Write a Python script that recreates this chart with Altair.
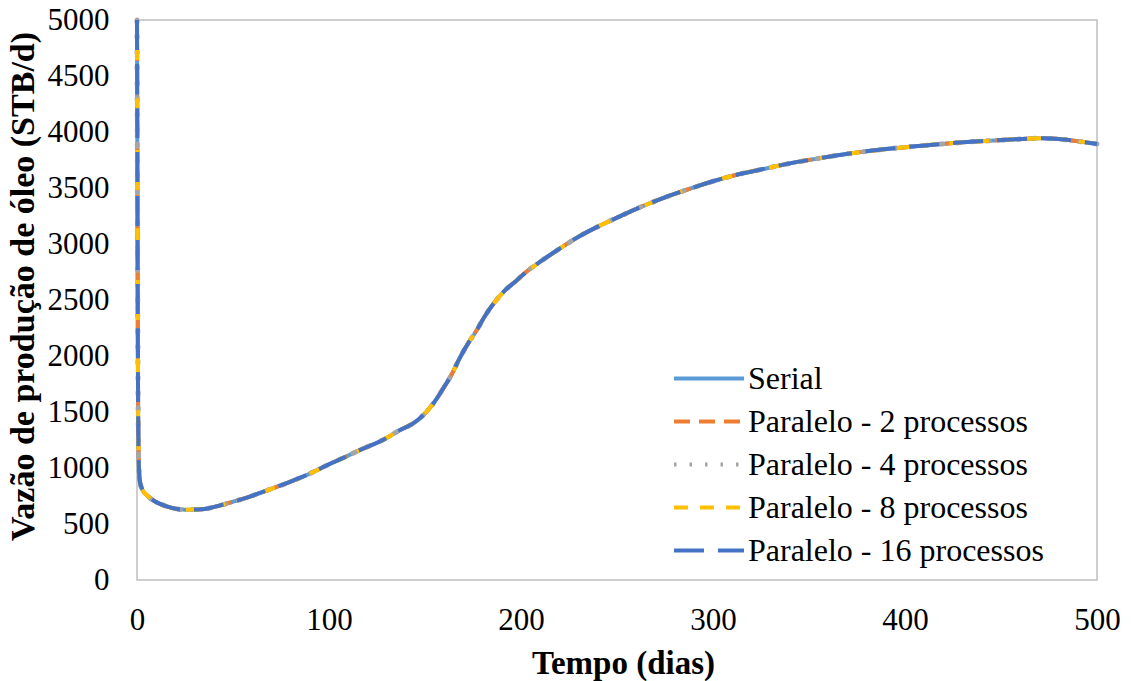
import altair as alt
import pandas as pd

# ---- data ----
time_days = [0, 0.3, 0.6, 1.0, 1.5, 3, 5, 9, 15, 25, 34, 42, 50, 58, 66, 78, 90, 99,
             108, 116, 128, 137, 144, 150, 155, 159.5, 164, 168, 173, 177, 181, 186.5,
             191, 198, 203, 210, 219, 230, 240, 250, 262, 274, 286, 300, 314, 328, 340,
             352, 366, 380, 394, 407, 419, 432, 445, 458, 470, 480, 488, 500]
oil_rate = [5000, 3000, 1500, 1000, 880, 800, 760, 705, 660, 628, 632, 660, 699, 740, 790,
            865, 950, 1025, 1095, 1160, 1250, 1339, 1400, 1488, 1592, 1711, 1839, 1979,
            2128, 2232, 2351, 2485, 2574, 2679, 2755, 2842, 2946, 3065, 3155, 3235, 3328,
            3410, 3482, 3560, 3625, 3676, 3720, 3756, 3795, 3828, 3854, 3875, 3893, 3910,
            3923, 3935, 3944, 3938, 3922, 3893]

series_names = ["Serial", "Paralelo - 2 processos", "Paralelo - 4 processos",
                "Paralelo - 8 processos", "Paralelo - 16 processos"]
series_colors = ["#5B9BD5", "#ED7D31", "#A5A5A5", "#FFC000", "#4472C4"]
series_dashes = [[1, 0], [16, 9], [2.5, 13], [14, 12], [30, 14]]
series_caps = ["butt", "butt", "round", "butt", "butt"]
series_widths = [4, 4, 5, 4, 4]

x_ticks = [0, 100, 200, 300, 400, 500]
y_ticks = [0, 500, 1000, 1500, 2000, 2500, 3000, 3500, 4000, 4500, 5000]

rows = []
for s in series_names:
    for t, q in zip(time_days, oil_rate):
        rows.append({"series": s, "t": t, "q": q})
df = pd.DataFrame(rows)

FONT = "Liberation Serif"

color_scale = alt.Scale(domain=series_names, range=series_colors)
dash_scale = alt.Scale(domain=series_names, range=series_dashes)

legend = alt.Legend(
    title=None,
    orient="none",
    legendX=535,
    legendY=337,
    symbolType="stroke",
    symbolSize=4900,
    symbolStrokeWidth=4,
    labelFont=FONT,
    labelFontSize=32,
    labelColor="black",
    labelOffset=2,
    clipHeight=43,
    rowPadding=0,
    padding=0,
    labelLimit=500,
)

x_enc = alt.X("t:Q", scale=alt.Scale(domain=[0, 500], nice=False),
              axis=alt.Axis(values=x_ticks, title="Tempo (dias)", labelPadding=25,
                            labelFlush=False, format="d", titleX=486, titleY=93,
                            titleFontSize=33,
                            titleBaseline="alphabetic", titleAlign="center"))
y_enc = alt.Y("q:Q", scale=alt.Scale(domain=[0, 5000], nice=False),
              axis=alt.Axis(values=y_ticks, title="Vazão de produção de óleo (STB/d)",
                            labelPadding=28, labelFlush=False, format="d",
                            titleX=-104, titleY=266, titleFontSize=34,
                            titleBaseline="alphabetic", titleAngle=-90,
                            titleAlign="center"))

layers = []
for name, cap, w in zip(series_names, series_caps, series_widths):
    layers.append(
        alt.Chart(df)
        .transform_filter(alt.datum.series == name)
        .mark_line(strokeWidth=w, strokeCap=cap, interpolate="monotone")
        .encode(
            x=x_enc,
            y=y_enc,
            color=alt.Color("series:N", scale=color_scale, legend=legend),
            strokeDash=alt.StrokeDash("series:N", scale=dash_scale, legend=legend),
        )
    )

chart = (
    alt.layer(*layers)
    .properties(width=960, height=560, autosize="none", background="white",
                padding={"left": 137, "top": 20, "right": 34, "bottom": 101})
    .configure_view(stroke="#BFBFBF", strokeWidth=1.5)
    .configure_axis(
        grid=False, ticks=False, domain=False,
        labelFont=FONT, labelFontSize=31, labelColor="black",
        titleFont=FONT, titleFontSize=33, titleFontWeight="bold", titleColor="black",
    )
)

chart.save("out.html", embed_options={"renderer": "svg", "actions": False})
